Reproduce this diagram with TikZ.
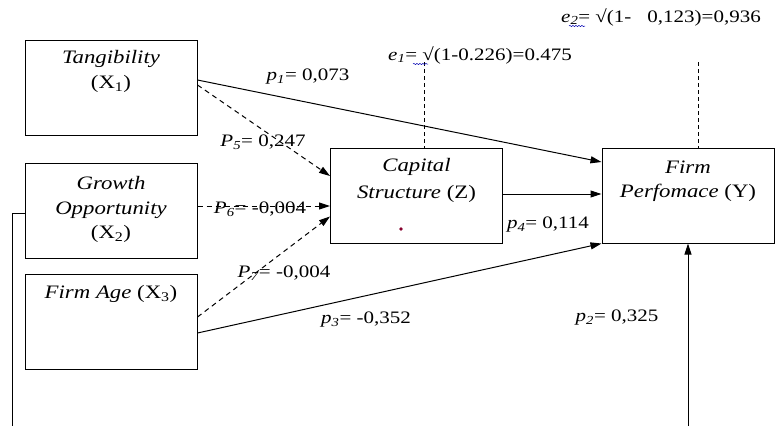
\documentclass[tikz,border=0pt]{standalone}
\usepackage{fontspec}
\setmainfont{Liberation Serif}[FakeStretch=1.2]
\usetikzlibrary{arrows.meta,calc,decorations.pathmorphing}

\tikzset{
  var/.style={draw, line width=1pt, minimum width=172pt, minimum height=95pt, inner sep=0pt},
  varname/.style={anchor=north, align=center, inner sep=0pt, font=\fontsize{19}{24.5}\selectfont},
  coef/.style={inner sep=0pt, font=\fontsize{17.5}{20}\selectfont},
  direct/.style={line width=1pt, -{Triangle[length=11pt,width=7pt]}},
  indirect/.style={direct, dash pattern=on 5pt off 4pt},
  resid/.style={line width=1pt, dash pattern=on 4pt off 3pt},
  spell/.style={blue!70!black, line width=0.5pt, decorate, decoration={snake, amplitude=0.6pt, segment length=3pt}}
}
\newcommand{\pcoef}[3]{\textit{#1}\textsubscript{\textit{#2}}= #3}

\begin{document}
\begin{tikzpicture}[x=1pt,y=-1pt]
\useasboundingbox (0,0) rectangle (775,426);

\node[var] (tang) at (111,87.5) {};
\node[var] (grow) at (111,210.5) {};
\node[var] (age) at (111,321.5) {};
\node[var] (cap) at (416.5,195.5) {};
\node[var] (perf) at (688,195.5) {};

\node[varname] (tangname) at ([yshift=-11pt]tang.north) {\textit{Tangibility}\\(X\textsubscript{1})};
\node[varname] (growname) at ([yshift=-14pt]grow.north) {\textit{Growth}\\\textit{Opportunity}\\(X\textsubscript{2})};
\node[varname] (agename) at ([yshift=-12pt]age.north) {\textit{Firm Age} (X\textsubscript{3})};
\node[varname, font=\fontsize{19}{27}\selectfont] (capname) at ([yshift=-11pt]cap.north) {\textit{Capital}\\\textit{Structure} (Z)};
\node[varname] (perfname) at ([yshift=-13pt]perf.north) {\textit{Firm}\\\textit{Perfomace} (Y)};
\fill[purple!70!black] (401,229) circle (1.8pt);

\draw[direct] ([yshift=7.5pt]tang.east) -- ([yshift=33.5pt]perf.west);
\draw[indirect] ([yshift=2.5pt]tang.east) -- ([yshift=19.5pt]cap.west);
\draw[indirect] ([yshift=4.5pt]grow.east) -- ([yshift=-10.5pt]cap.west);
\draw[indirect] ([yshift=4.5pt]age.east) -- ([yshift=-21pt]cap.west);
\draw[direct] ([yshift=-11.5pt]age.east) -- (perf.south west);
\draw[direct] ([yshift=1.5pt]cap.east) -- ([yshift=1.5pt]perf.west);

\coordinate (e1top) at (424,62);
\coordinate (e2top) at (698,62);
\draw[resid] (e1top) -- (e1top |- cap.north);
\draw[resid] (e2top) -- (e2top |- perf.north);

\coordinate (loopL) at (12,426);
\coordinate (loopR) at (688,426);
\draw[line width=1pt] ([yshift=-2.5pt]grow.west) -| (loopL);
\draw[direct] (loopR) -- (perf.south);

\node[coef] (p1) at (308,77) {\pcoef{p}{1}{0,073}};
\node[coef] (p5) at (263,142) {\pcoef{P}{5}{0,247}};
\node[coef] (p6) at (260,209) {\pcoef{P}{6}{-0,004}};
\node[coef] (p7) at (284,273) {\pcoef{P}{7}{-0,004}};
\node[coef] (p3) at (366,320) {\pcoef{p}{3}{-0,352}};
\node[coef] (p2) at (617,318) {\pcoef{p}{2}{0,325}};
\node[coef] (p4) at (548,225) {\pcoef{p}{4}{0,114}};
\node[coef] (e1) at (480,55) {\pcoef{e}{1}{√(1-0.226)=0.475}};
\node[coef] (e2) at (661,17) {\pcoef{e}{2}{√(1-\hspace{16pt}0,123)=0,936}};
\draw[spell] (413,64) -- (428,64);
\draw[spell] (569,26) -- (585,26);
\end{tikzpicture}
\end{document}
